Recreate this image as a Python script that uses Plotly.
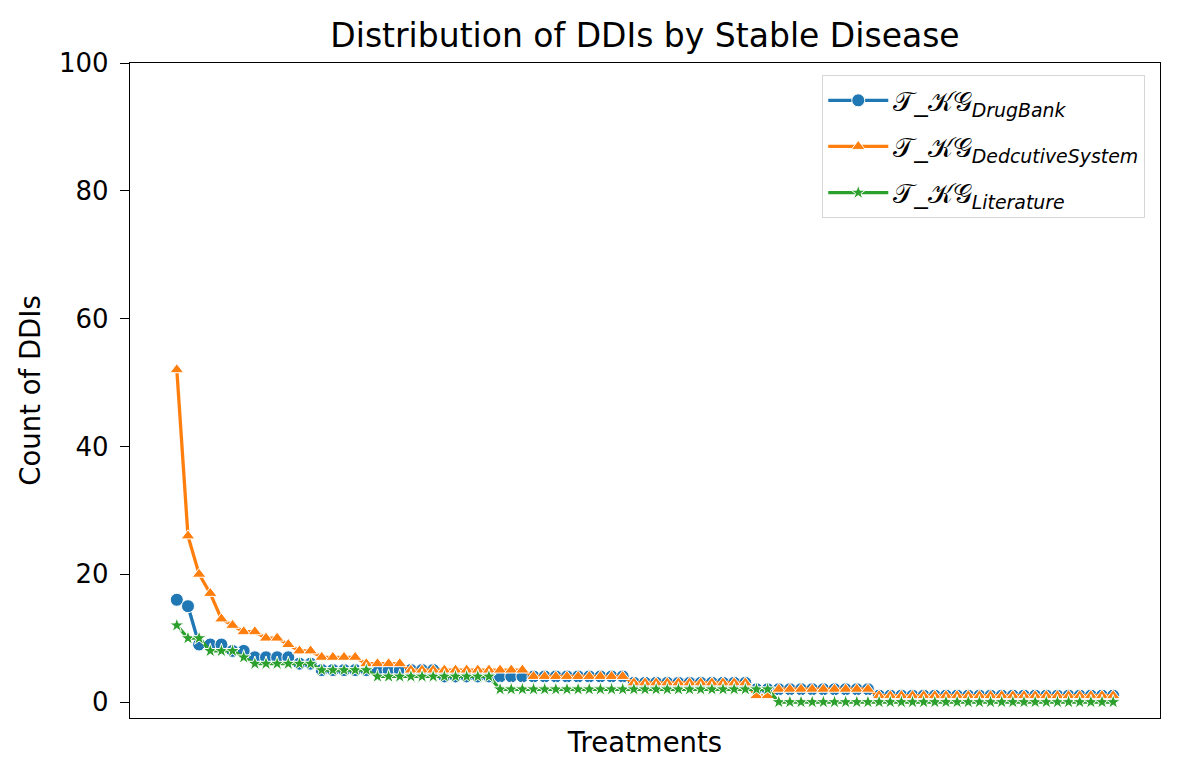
import plotly.graph_objects as go

# Treatments (categorical positions, labels hidden in the reference)
treatments = list(range(85))

drugbank = [16, 15, 9, 9, 9, 8, 8, 7, 7, 7, 7, 6, 6,
            5, 5, 5, 5, 5, 5, 5, 5, 5, 5, 5,
            4, 4, 4, 4, 4, 4, 4, 4, 4, 4, 4, 4, 4, 4, 4, 4, 4,
            3, 3, 3, 3, 3, 3, 3, 3, 3, 3, 3,
            2, 2, 2, 2, 2, 2, 2, 2, 2, 2, 2,
            1, 1, 1, 1, 1, 1, 1, 1, 1, 1, 1, 1, 1, 1, 1, 1, 1, 1, 1, 1, 1, 1]

deductive = [52, 26, 20, 17, 13, 12, 11, 11, 10, 10, 9, 8, 8, 7, 7, 7, 7, 6, 6, 6, 6,
             5, 5, 5, 5, 5, 5, 5, 5, 5, 5, 5,
             4, 4, 4, 4, 4, 4, 4, 4, 4,
             3, 3, 3, 3, 3, 3, 3, 3, 3, 3, 3,
             1, 1,
             2, 2, 2, 2, 2, 2, 2, 2, 2,
             1, 1, 1, 1, 1, 1, 1, 1, 1, 1, 1, 1, 1, 1, 1, 1, 1, 1, 1, 1, 1, 1]

literature = [12, 10, 10, 8, 8, 8, 7, 6, 6, 6, 6, 6, 6,
              5, 5, 5, 5, 5,
              4, 4, 4, 4, 4, 4, 4, 4, 4, 4, 4,
              2, 2, 2, 2, 2, 2, 2, 2, 2, 2, 2, 2, 2, 2, 2, 2, 2, 2, 2, 2, 2, 2, 2, 2, 2,
              0, 0, 0, 0, 0, 0, 0, 0, 0, 0, 0, 0, 0, 0, 0, 0, 0, 0, 0, 0, 0, 0, 0, 0, 0, 0, 0, 0, 0, 0, 0]

series_names = [
    "𝒯_𝒦𝒢<sub><i>DrugBank</i></sub>",
    "𝒯_𝒦𝒢<sub><i>DedcutiveSystem</i></sub>",
    "𝒯_𝒦𝒢<sub><i>Literature</i></sub>",
]
y_ticks = [0, 20, 40, 60, 80, 100]

colors = ["#1f77b4", "#ff7f0e", "#2ca02c"]
symbols = ["circle", "triangle-up", "star"]
sizes = [13, 12, 11]

fig = go.Figure()
for k, (vals, name, c, s, sz) in enumerate(zip([drugbank, deductive, literature], series_names, colors, symbols, sizes)):
    fig.add_trace(go.Scatter(
        x=treatments, y=vals, name=name, mode="lines+markers", legendgroup=f"g{k}",
        line=dict(color=c, width=3.3),
        marker=dict(symbol=s, size=sz, color=c, line=dict(color="white", width=1)),
    ))

# page body has an 8px offset; margins compensate so the axes box lands at 130..1160 x 63..718
fig.update_layout(
    width=1180, height=777,
    margin=dict(l=122, r=28, t=55, b=67),
    paper_bgcolor="white", plot_bgcolor="white",
    font=dict(family="DejaVu Sans", size=26, color="black"),
    title=dict(text="Distribution of DDIs by Stable Disease", x=(645 - 8) / 1180, xanchor="center",
               y=1 - 27 / 777, yanchor="middle", font=dict(size=33, color="black")),
    showlegend=True,
    legend=dict(x=0.9854, y=0.9817, xanchor="right", yanchor="top",
                bgcolor="white", bordercolor="#d6d6d6", borderwidth=1.3,
                font=dict(size=27, color="black"), tracegroupgap=8, itemwidth=60),
)
fig.update_xaxes(
    range=[-4.2, 88.2], showticklabels=False, ticks="", showgrid=False, zeroline=False,
    showline=True, linecolor="black", linewidth=1.3, mirror=True,
    title=dict(text="Treatments", standoff=14, font=dict(size=27.5)),
)
fig.update_yaxes(
    range=[-2.5, 100], tickvals=y_ticks, ticks="outside", ticklen=9, tickwidth=1.3,
    tickcolor="black", showgrid=False, zeroline=False, ticklabelstandoff=6,
    showline=True, linecolor="black", linewidth=1.3, mirror=True,
    tickfont=dict(size=26),
    title=dict(text="Count of DDIs", standoff=10, font=dict(size=27.5)),
)

fig.write_html("out.html")
